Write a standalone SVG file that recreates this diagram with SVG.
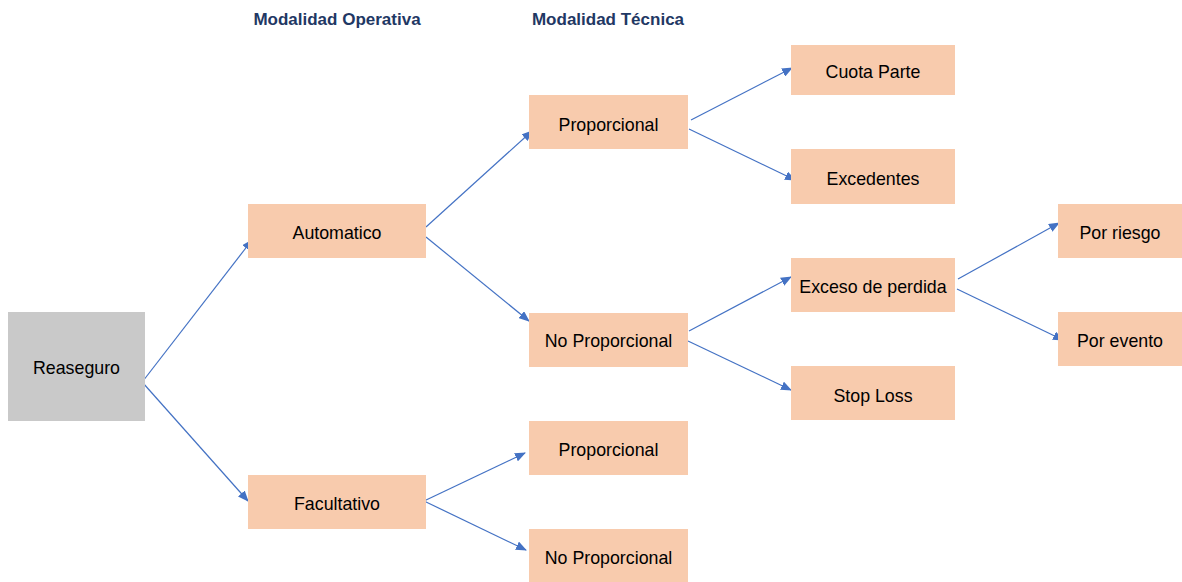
<svg xmlns="http://www.w3.org/2000/svg" width="1182" height="582" viewBox="0 0 1182 582">
<style>
.box{fill:#F8CBAD}
.root{fill:#C9C9C9}
.t{font-family:"Liberation Sans",Arial,sans-serif;font-size:17.8px;fill:#000;text-anchor:middle}
.h{font-family:"Liberation Sans",Arial,sans-serif;font-size:17px;font-weight:bold;fill:#1F3864;text-anchor:middle}
.c line{stroke:#4472C4;stroke-width:1.2;marker-end:url(#ah)}
</style>
<defs>
<marker id="ah" markerUnits="userSpaceOnUse" markerWidth="11" markerHeight="9" refX="10" refY="4.5" orient="auto">
<path d="M0,0 L11,4.5 L0,9 z" fill="#4472C4"/>
</marker>
</defs>
<rect width="1182" height="582" fill="#fff"/>
<text class="h" x="337" y="25">Modalidad Operativa</text>
<text class="h" x="608" y="25">Modalidad Técnica</text>
<g class="c" id="connectors">
<line x1="143" y1="381" x2="252" y2="240"/>
<line x1="143" y1="383" x2="248" y2="501"/>
<line x1="426" y1="227" x2="532" y2="131"/>
<line x1="426" y1="237" x2="529" y2="321"/>
<line x1="691" y1="120" x2="792" y2="68"/>
<line x1="689" y1="129" x2="795" y2="180"/>
<line x1="689" y1="331" x2="791" y2="277"/>
<line x1="688" y1="341" x2="791" y2="390"/>
<line x1="958" y1="279" x2="1059" y2="223"/>
<line x1="957" y1="289" x2="1063" y2="340"/>
<line x1="424" y1="501" x2="525" y2="453"/>
<line x1="424" y1="501" x2="526" y2="550"/>
</g>
<g id="reaseguro"><rect class="root" x="8" y="312" width="137" height="109"/><text class="t" x="76.5" y="374">Reaseguro</text></g>
<g id="automatico"><rect class="box" x="248" y="204" width="178" height="54"/><text class="t" x="337" y="239">Automatico</text></g>
<g id="facultativo"><rect class="box" x="248" y="475" width="178" height="54"/><text class="t" x="337" y="510">Facultativo</text></g>
<g id="proporcional1"><rect class="box" x="529" y="95" width="159" height="54"/><text class="t" x="608.5" y="131">Proporcional</text></g>
<g id="noproporcional1"><rect class="box" x="529" y="313" width="159" height="54"/><text class="t" x="608.5" y="347">No Proporcional</text></g>
<g id="proporcional2"><rect class="box" x="529" y="421" width="159" height="54"/><text class="t" x="608.5" y="456">Proporcional</text></g>
<g id="noproporcional2"><rect class="box" x="529" y="529" width="159" height="53"/><text class="t" x="608.5" y="564">No Proporcional</text></g>
<g id="cuotaparte"><rect class="box" x="791" y="45" width="164" height="50"/><text class="t" x="873" y="78">Cuota Parte</text></g>
<g id="excedentes"><rect class="box" x="791" y="149" width="164" height="55"/><text class="t" x="873" y="185">Excedentes</text></g>
<g id="exceso"><rect class="box" x="791" y="258" width="164" height="54"/><text class="t" x="873" y="293">Exceso de perdida</text></g>
<g id="stoploss"><rect class="box" x="791" y="366" width="164" height="54"/><text class="t" x="873" y="402">Stop Loss</text></g>
<g id="porriesgo"><rect class="box" x="1058" y="204" width="124" height="54"/><text class="t" x="1120" y="239">Por riesgo</text></g>
<g id="porevento"><rect class="box" x="1058" y="312" width="124" height="54"/><text class="t" x="1120" y="347">Por evento</text></g>
</svg>
